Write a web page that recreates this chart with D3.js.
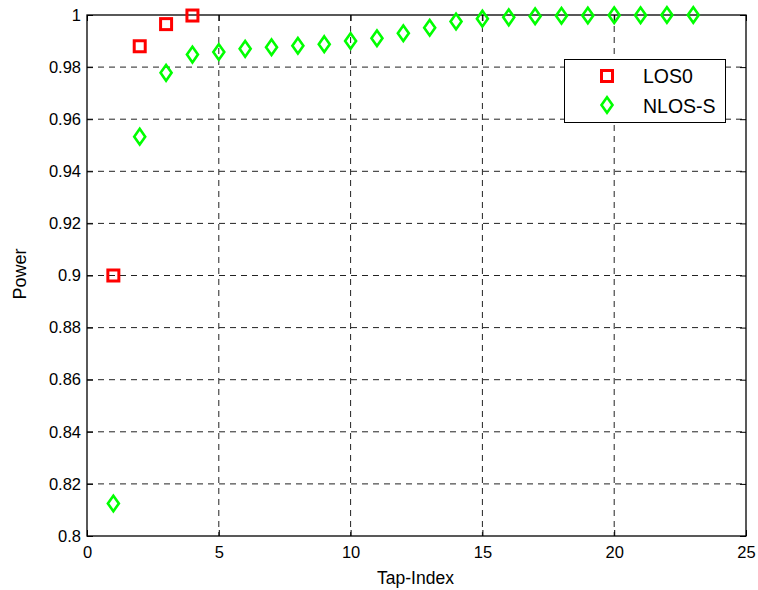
<!DOCTYPE html>
<html><head><meta charset="utf-8">
<script src="https://cdn.jsdelivr.net/npm/d3@7"></script>
<style>body{margin:0;background:#fff}svg{display:block;font-family:"Liberation Sans",Arial,sans-serif}</style>
</head><body>
<svg id="c" width="758" height="590"></svg>
<script>
const losX = [1, 2, 3, 4];
const losY = [0.900, 0.988, 0.9965, 0.9998];
const nlosX = [1,2,3,4,5,6,7,8,9,10,11,12,13,14,15,16,17,18,19,20,21,22,23];
const nlosY = [0.8125,0.9533,0.9778,0.9848,0.9858,0.9870,0.9876,0.9882,0.9888,0.9900,0.9911,0.9930,0.9951,0.9975,0.9986,0.9991,0.9995,0.9997,0.9998,0.9999,0.9999,1.0,1.0];
const xTicks = [0,5,10,15,20,25];
const yTicks = [0.8,0.82,0.84,0.86,0.88,0.9,0.92,0.94,0.96,0.98,1];
const seriesNames = ["LOS0","NLOS-S"];

const L=87, R=746, T=15, B=536;
const svg=d3.select("#c");
const x=d3.scaleLinear().domain([0,25]).range([L,R]);
const y=d3.scaleLinear().domain([0.8,1]).range([B,T]);

// grid
const g=svg.append("g");
g.selectAll(".vx").data(xTicks.slice(1,-1)).enter().append("line")
 .attr("x1",d=>x(d)).attr("x2",d=>x(d)).attr("y1",T).attr("y2",B)
 .attr("stroke","#222").attr("stroke-width",1).attr("stroke-dasharray","6,5");
g.selectAll(".hy").data(yTicks.slice(1,-1)).enter().append("line")
 .attr("y1",d=>y(d)).attr("y2",d=>y(d)).attr("x1",L).attr("x2",R)
 .attr("stroke","#222").attr("stroke-width",1).attr("stroke-dasharray","6,5");

// axes
const ax=d3.axisBottom(x).tickValues(xTicks).tickSize(-6).tickPadding(10).tickFormat(d3.format("d"));
const ay=d3.axisLeft(y).tickValues(yTicks).tickSize(-6).tickPadding(6).tickFormat(d=>d===1?"1":(d===0.8?"0.8":d===0.9?"0.9":d3.format(".2f")(d)));
const axT=d3.axisTop(x).tickValues(xTicks).tickSize(-6).tickFormat("");
const ayR=d3.axisRight(y).tickValues(yTicks).tickSize(-6).tickFormat("");
function style(sel){sel.select(".domain").remove();sel.selectAll("line").attr("stroke","#000");sel.selectAll("text").attr("font-size",16.5).attr("fill","#000").attr("font-family","Liberation Sans, Arial, sans-serif");}
svg.append("g").attr("transform",`translate(0,${B})`).call(ax).call(style);
svg.append("g").attr("transform",`translate(${L},0)`).call(ay).call(style);
svg.append("g").attr("transform",`translate(0,${T})`).call(axT).call(style);
svg.append("g").attr("transform",`translate(${R},0)`).call(ayR).call(style);
svg.append("rect").attr("x",L).attr("y",T).attr("width",R-L).attr("height",B-T).attr("fill","none").attr("stroke","#000").attr("stroke-width",1.3);

// labels
svg.append("text").attr("x",415.5).attr("y",584).attr("text-anchor","middle").attr("font-size",17.5).text("Tap-Index");
svg.append("text").attr("transform",`translate(25.5,274) rotate(-90)`).attr("text-anchor","middle").attr("font-size",18).text("Power");

// markers
const sq=11, dw=5.5, dh=7.8;
function square(sel,cx,cy){sel.append("rect").attr("x",cx-sq/2).attr("y",cy-sq/2).attr("width",sq).attr("height",sq).attr("fill","none").attr("stroke","#ff0000").attr("stroke-width",3);}
function diamond(sel,cx,cy){sel.append("path").attr("d",`M${cx},${cy-dh}L${cx+dw},${cy}L${cx},${cy+dh}L${cx-dw},${cy}Z`).attr("fill","none").attr("stroke","#00ff00").attr("stroke-width",2.6);}
const m=svg.append("g");
losX.forEach((v,i)=>square(m,x(v),y(losY[i])));
nlosX.forEach((v,i)=>diamond(m,x(v),y(nlosY[i])));

// legend
const lg=svg.append("g");
lg.append("rect").attr("x",564.5).attr("y",59.5).attr("width",161).attr("height",63).attr("fill","#fff").attr("stroke","#000").attr("stroke-width",1);
square(lg,607,76);
diamond(lg,607,105);
lg.append("text").attr("x",643).attr("y",83).attr("font-size",19.5).text(seriesNames[0]);
lg.append("text").attr("x",643).attr("y",112.5).attr("font-size",19.5).text(seriesNames[1]);
</script>
</body></html>
